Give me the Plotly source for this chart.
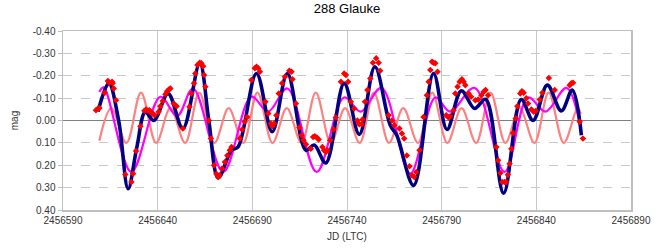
import plotly.graph_objects as go

# ---- observed points (red diamonds) ----
obs_jd = [2456607.4, 2456608.5, 2456609.2, 2456612.0, 2456613.7, 2456614.4, 2456615.9, 2456616.2,
          2456616.8, 2456618.0, 2456622.9, 2456626.1, 2456627.0, 2456628.6, 2456630.9, 2456633.0,
          2456633.9, 2456634.9, 2456635.6, 2456636.5, 2456637.4, 2456638.3, 2456640.5, 2456641.4,
          2456642.7, 2456644.1, 2456645.0, 2456645.9, 2456646.7, 2456648.5, 2456650.0, 2456653.3,
          2456656.8, 2456657.8, 2456659.2, 2456659.9, 2456661.0, 2456662.2, 2456663.1, 2456664.0,
          2456664.5, 2456665.2, 2456667.0, 2456668.1, 2456669.8, 2456671.0, 2456671.9, 2456672.8,
          2456674.0, 2456675.5, 2456676.8, 2456678.1, 2456679.0, 2456683.4, 2456684.6, 2456686.0,
          2456687.3, 2456689.5, 2456691.3, 2456692.2, 2456693.1, 2456694.0, 2456696.9, 2456698.4,
          2456699.8, 2456700.5, 2456701.5, 2456702.7, 2456704.0, 2456705.7, 2456707.2, 2456709.5,
          2456710.7, 2456711.2, 2456713.0, 2456714.8, 2456716.0, 2456717.0, 2456718.3, 2456720.9,
          2456722.1, 2456723.0, 2456724.1, 2456725.0, 2456727.0, 2456727.9, 2456728.8, 2456729.7,
          2456731.1, 2456732.9, 2456734.1, 2456736.8, 2456738.5, 2456739.4, 2456740.6, 2456742.0,
          2456743.8, 2456745.5, 2456746.5, 2456747.7, 2456748.2, 2456749.5, 2456750.8, 2456752.3,
          2456753.7, 2456755.4, 2456756.7, 2456757.5, 2456762.0, 2456763.7, 2456765.0, 2456767.7,
          2456769.0, 2456770.2, 2456771.6, 2456773.0, 2456774.3, 2456775.5, 2456776.6, 2456778.3,
          2456780.4, 2456782.2, 2456783.1, 2456784.0, 2456784.9, 2456785.7, 2456786.6, 2456787.8,
          2456792.4, 2456793.6, 2456794.5, 2456796.3, 2456797.2, 2456798.4, 2456799.5, 2456800.7,
          2456801.6, 2456802.5, 2456804.2, 2456805.5, 2456807.8, 2456809.3, 2456811.0, 2456812.2,
          2456813.2, 2456814.5, 2456818.9, 2456819.8, 2456821.0, 2456822.0, 2456823.2, 2456824.1,
          2456825.0, 2456825.9, 2456826.8, 2456827.7, 2456829.1, 2456830.0, 2456831.5, 2456832.4,
          2456833.3, 2456834.7, 2456835.6, 2456837.4, 2456838.6, 2456839.7, 2456841.8, 2456843.2,
          2456846.6, 2456849.7, 2456857.6, 2456858.5, 2456859.4, 2456862.9, 2456864.6]
obs_mag = [-0.046, -0.054, -0.056, -0.124, -0.176, -0.169, -0.173, -0.166,
           -0.143, -0.091, 0.241, 0.275, 0.238, 0.136, 0.026, -0.044,
           -0.049, -0.044, -0.046, -0.037, -0.031, -0.024, -0.039, -0.064,
           -0.087, -0.117, -0.131, -0.139, -0.143, -0.076, -0.064, 0.036,
           -0.061, -0.121, -0.166, -0.210, -0.248, -0.258, -0.256, -0.243,
           -0.203, -0.151, 0.000, 0.081, 0.200, 0.238, 0.253, 0.245,
           0.215, 0.186, 0.156, 0.133, 0.118, 0.081, 0.040, 0.006,
           -0.016, -0.181, -0.233, -0.240, -0.233, -0.218, -0.084, -0.031,
           0.013, 0.026, 0.013, -0.024, -0.121, -0.166, -0.196, -0.222,
           -0.218, -0.184, -0.076, 0.031, 0.066, 0.088, 0.106, 0.126,
           0.074, 0.070, 0.076, 0.085, 0.118, 0.133, 0.141, 0.133,
           0.088, 0.040, -0.013, -0.173, -0.210, -0.203, -0.173, -0.084,
           -0.054, 0.000, 0.017, 0.017, -0.004, -0.084, -0.136, -0.188,
           -0.258, -0.278, -0.258, -0.222, -0.024, 0.000, 0.021, 0.036,
           0.058, 0.081, 0.156, 0.205, 0.245, 0.253, 0.230, 0.133,
           -0.016, -0.113, -0.173, -0.226, -0.263, -0.258, -0.256, -0.218,
           -0.024, -0.013, -0.019, -0.046, -0.121, -0.151, -0.173, -0.184,
           -0.173, -0.158, -0.121, -0.106, -0.091, -0.094, -0.113, -0.128,
           -0.136, -0.113, 0.118, 0.178, 0.235, 0.275, 0.275, 0.275,
           0.242, 0.193, 0.126, 0.056, -0.009, -0.064, -0.121, -0.131,
           -0.124, -0.099, -0.076, -0.049, -0.039, -0.043, -0.094, -0.124,
           -0.190, -0.136, -0.158, -0.166, -0.169, 0.006, 0.081]

# ---- combined model (navy) ----
fit_jd = [2456608.5, 2456614.2, 2456619.4, 2456624.4, 2456629.0, 2456633.5, 2456638.0, 2456645.5,
          2456653.3, 2456662.2, 2456667.0, 2456672.0, 2456679.0, 2456682.5, 2456692.2, 2456700.5,
          2456708.5, 2456718.3, 2456722.7, 2456728.8, 2456738.5, 2456746.5, 2456754.7, 2456762.8,
          2456766.3, 2456775.2, 2456785.7, 2456792.8, 2456800.4, 2456807.4, 2456813.2, 2456822.7,
          2456832.0, 2456838.3, 2456845.8, 2456853.2, 2456859.0, 2456863.8]
fit_mag = [-0.040, -0.166, 0.000, 0.305, 0.120, -0.038, 0.000, -0.120,
           0.036, -0.256, 0.000, 0.256, 0.133, 0.118, -0.210, 0.050,
           -0.210, 0.133, 0.110, 0.190, -0.166, 0.062, -0.240, 0.020,
           0.066, 0.290, -0.210, 0.040, -0.133, -0.054, -0.095, 0.325,
           -0.094, 0.000, -0.158, -0.043, -0.136, 0.066]

# ---- long-period component (magenta) ----
p1_jd = [2456609.2, 2456611.5, 2456626.1, 2456641.4, 2456650.3, 2456658.7, 2456674.6, 2456689.5,
         2456698.4, 2456708.5, 2456724.0, 2456738.5, 2456747.3, 2456758.2, 2456773.4, 2456786.6,
         2456794.5, 2456807.4, 2456823.2, 2456835.6, 2456844.9, 2456855.9, 2456863.3]
p1_mag = [-0.128, -0.148, 0.230, -0.106, -0.020, -0.143, 0.230, -0.106,
          -0.040, -0.143, 0.230, -0.103, -0.040, -0.146, 0.237, -0.103,
          -0.040, -0.146, 0.230, -0.103, -0.040, -0.146, 0.030]

# ---- short-period component (salmon) ----
p2_jd = [2456609.2, 2456615.5, 2456623.5, 2456631.2, 2456639.2, 2456646.7, 2456654.5, 2456662.0,
         2456670.0, 2456677.5, 2456685.2, 2456692.7, 2456700.7, 2456708.2, 2456716.0, 2456723.5,
         2456731.5, 2456739.0, 2456746.7, 2456754.2, 2456762.2, 2456769.7, 2456777.5, 2456785.0,
         2456793.0, 2456800.5, 2456808.2, 2456815.8, 2456823.7, 2456831.2, 2456839.0, 2456846.5,
         2456854.5, 2456861.8, 2456863.5]
p2_mag = [0.090, -0.055, 0.100, -0.125, 0.100, -0.055, 0.100, -0.125,
          0.100, -0.055, 0.100, -0.125, 0.100, -0.055, 0.100, -0.125,
          0.100, -0.055, 0.100, -0.125, 0.100, -0.055, 0.100, -0.125,
          0.100, -0.055, 0.100, -0.125, 0.100, -0.055, 0.100, -0.125,
          0.100, -0.055, -0.030]

y_ticks = [-0.4, -0.3, -0.2, -0.1, 0.0, 0.1, 0.2, 0.3, 0.4]
y_ticktext = ["-0.40", "-0.30", "-0.20", "-0.10", "0.00", "0.10", "0.20", "0.30", "0.40"]
x_ticks = [2456590, 2456640, 2456690, 2456740, 2456790, 2456840, 2456890]

FONT = "Liberation Sans, Arial, sans-serif"

fig = go.Figure()
fig.add_trace(go.Scatter(x=p2_jd, y=p2_mag, mode="lines",
                         line=dict(color="#FF8080", width=2.2, shape="spline", smoothing=1.0),
                         hoverinfo="skip"))
fig.add_trace(go.Scatter(x=p1_jd, y=p1_mag, mode="lines",
                         line=dict(color="#FF00FF", width=2.2, shape="spline", smoothing=1.0),
                         hoverinfo="skip"))
fig.add_trace(go.Scatter(x=fit_jd, y=fit_mag, mode="lines",
                         line=dict(color="#000080", width=3.6, shape="spline", smoothing=1.0),
                         hoverinfo="skip"))
fig.add_trace(go.Scatter(x=obs_jd, y=obs_mag, mode="markers",
                         marker=dict(symbol="diamond", size=5, color="#FF0000", line=dict(width=0))))

fig.update_layout(
    width=659, height=248,
    margin=dict(l=63, r=28, t=31, b=38, autoexpand=False),
    paper_bgcolor="white", plot_bgcolor="white",
    showlegend=False,
    font=dict(family=FONT, size=10, color="#333333"),
    title=dict(text="288 Glauke", x=0.5, xref="paper", xanchor="center",
               y=0.985, yref="container", yanchor="top", automargin=False,
               font=dict(family=FONT, size=13, color="#000000")),
)
fig.update_xaxes(range=[2456590, 2456890], tickvals=x_ticks, ticktext=[str(v) for v in x_ticks],
                 showgrid=True, gridcolor="#C8C8C8", gridwidth=1, automargin=False,
                 showline=True, linecolor="#BFBFBF", linewidth=1.5, mirror=True,
                 ticks="", zeroline=False,
                 title=dict(text="JD (LTC)", font=dict(family=FONT, size=10, color="#333333"), standoff=8))
fig.update_yaxes(range=[0.4, -0.4], tickvals=y_ticks, ticktext=y_ticktext, automargin=False,
                 showgrid=True, gridcolor="#C8C8C8", gridwidth=1, griddash="dash",
                 zeroline=True, zerolinecolor="#808080", zerolinewidth=1,
                 showline=True, linecolor="#BFBFBF", linewidth=1.5, mirror=True,
                 ticks="outside", ticklen=4, tickcolor="#BFBFBF",
                 title=dict(text="mag", font=dict(family=FONT, size=10, color="#333333"), standoff=12))

fig.write_html("out.html",
               config={"displayModeBar": False, "staticPlot": True},
               post_script="document.body.style.margin='0px';document.body.style.overflow='hidden';")
